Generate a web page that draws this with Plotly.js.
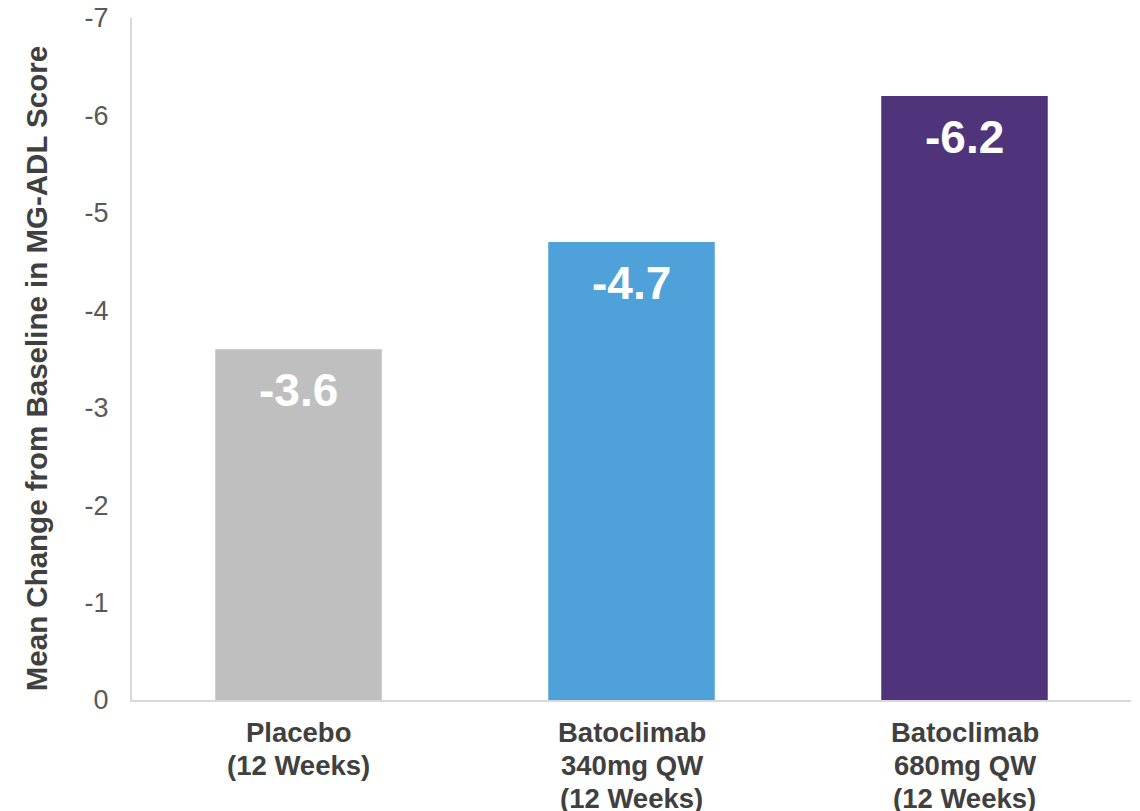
<!DOCTYPE html>
<html>
<head>
<meta charset="utf-8">
<script src="https://cdn.plot.ly/plotly-3.0.1.min.js"></script>
<style>html,body{margin:0;padding:0;background:#fff;}#chart{width:1140px;height:811px;}</style>
</head>
<body>
<div id="chart"></div>
<script>
const categories = ["Placebo (12 Weeks)", "Batoclimab 340mg QW (12 Weeks)", "Batoclimab 680mg QW (12 Weeks)"];
const categoryLines = [["Placebo", "(12 Weeks)"], ["Batoclimab", "340mg QW", "(12 Weeks)"], ["Batoclimab", "680mg QW", "(12 Weeks)"]];
const values = [-3.6, -4.7, -6.2];
const barColors = ["#BFBFBF", "#4FA1D9", "#4F347C"];
const yTickVals = [0, -1, -2, -3, -4, -5, -6, -7];
const yTickText = ["0", "-1", "-2", "-3", "-4", "-5", "-6", "-7"];
const yTitle = "Mean Change from Baseline in MG-ADL Score";

const font = "Liberation Sans, Arial, sans-serif";

const trace = {
  type: "bar",
  x: categories,
  y: values,
  marker: {color: barColors, line: {width: 0}},
  width: 0.5,
  hoverinfo: "skip"
};

const annotations = values.map((v, i) => ({
  x: categories[i], y: v, xref: "x", yref: "y",
  text: "<b>" + v.toFixed(1) + "</b>",
  showarrow: false, yanchor: "middle", yshift: -41,
  font: {family: font, size: 46, color: "#FFFFFF"}
}));

categoryLines.forEach((lines, i) => {
  lines.forEach((line, j) => {
    annotations.push({
      x: categories[i], y: 0, xref: "x", yref: "y",
      text: "<b>" + line + "</b>",
      showarrow: false, xanchor: "center", yanchor: "middle",
      borderpad: 0,
      yshift: -(32 + j * 33),
      font: {family: font, size: 27.5, color: "#404040"}
    });
  });
});

annotations.push({
  x: 0, y: 0.485, xref: "paper", yref: "paper",
  xanchor: "center", yanchor: "middle", xshift: -96,
  textangle: -90, showarrow: false,
  text: "<b>" + yTitle + "</b>",
  font: {family: font, size: 29.5, color: "#404040"}
});

const layout = {
  width: 1140, height: 811,
  margin: {l: 132, r: 9, t: 18, b: 111},
  paper_bgcolor: "#FFFFFF", plot_bgcolor: "#FFFFFF",
  showlegend: false,
  bargap: 0.5,
  xaxis: {
    type: "category",
    showline: true, linecolor: "#D9D9D9", linewidth: 2,
    showgrid: false, zeroline: false, ticks: "",
    showticklabels: false,
    automargin: false, fixedrange: true
  },
  yaxis: {
    range: [0, -7], autorange: false,
    tickvals: yTickVals, ticktext: yTickText,
    showline: true, linecolor: "#D9D9D9", linewidth: 2,
    showgrid: false, zeroline: false, ticks: "",
    ticklabelstandoff: 16,
    tickfont: {family: font, size: 27, color: "#595959"},
    automargin: false, fixedrange: true
  },
  annotations: annotations
};

Plotly.newPlot("chart", [trace], layout, {displayModeBar: false, staticPlot: true});
</script>
</body>
</html>
